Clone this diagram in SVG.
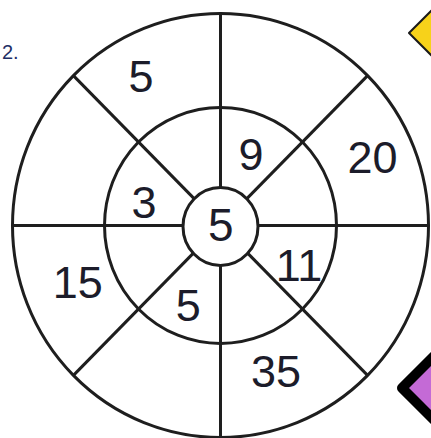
<svg xmlns="http://www.w3.org/2000/svg" width="431" height="438" viewBox="0 0 431 438">
<style>
.ln{stroke:#1e1e1e;stroke-width:3;fill:none;stroke-linecap:butt}
.ring{stroke:#1e1e1e;stroke-width:3;fill:none}
.num{font-family:"Liberation Sans","Open Sans",Arial,sans-serif;font-size:45px;fill:#1c1c2a;text-anchor:middle}
</style>
<rect width="431" height="438" fill="#ffffff"/>
<text x="2" y="59" style="font-family:'Liberation Sans',Arial,sans-serif;font-size:20px;fill:#1f2f66">2.</text>
<g id="yellow-shape">
<polygon points="409,33 434,8 459,33 434,58" fill="#f7d21a" stroke="#1a1a1a" stroke-width="2" stroke-linejoin="round"/>
</g>
<g id="purple-shape">
<polygon points="402,388 441,349 480,388 441,427" fill="#c46ad6" stroke="#000000" stroke-width="10" stroke-linejoin="round"/>
</g>
<g id="connectors">
<line class="ln" x1="220.5" y1="13.5" x2="220.5" y2="437.5"/>
<line class="ln" x1="12.5" y1="225.5" x2="428.5" y2="225.5"/>
<line class="ln" x1="73.4" y1="75.6" x2="367.6" y2="375.4"/>
<line class="ln" x1="367.6" y1="75.6" x2="73.4" y2="375.4"/>
</g>
<g id="outer-ring">
<ellipse class="ring" cx="220.5" cy="225.5" rx="208" ry="212"/>
</g>
<g id="middle-ring">
<ellipse class="ring" cx="220.5" cy="225.5" rx="116" ry="118"/>
</g>
<g id="centre">
<ellipse cx="220.5" cy="226.5" rx="37.5" ry="39" fill="#ffffff" stroke="#1e1e1e" stroke-width="3"/>
<text class="num" x="220.7" y="240.7" style="font-size:46px">5</text>
</g>
<g id="labels">
<text class="num" x="141" y="91.7">5</text>
<text class="num" x="251" y="170">9</text>
<text class="num" x="372.5" y="172.7">20</text>
<text class="num" x="144" y="217.7">3</text>
<text class="num" x="299" y="281">11</text>
<text class="num" x="77.8" y="297.7">15</text>
<text class="num" x="188.3" y="320.7">5</text>
<text class="num" x="276" y="387.3">35</text>
</g>
</svg>
